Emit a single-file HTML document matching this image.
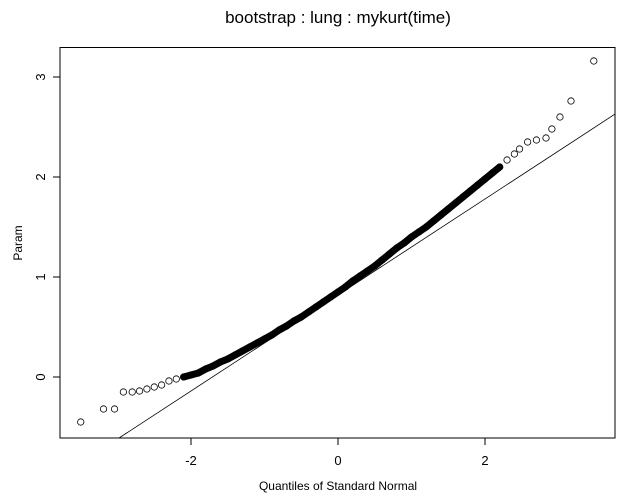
<!DOCTYPE html>
<html><head><meta charset="utf-8"><style>
body{margin:0;background:#fff;}
svg{display:block;font-family:"Liberation Sans",sans-serif;}
</style></head><body>
<svg id="chart" width="626" height="503">
<text x="338" y="23" text-anchor="middle" font-size="17">bootstrap : lung : mykurt(time)</text>
<text x="338" y="490" text-anchor="middle" font-size="12">Quantiles of Standard Normal</text>
<text transform="translate(22,243) rotate(-90)" text-anchor="middle" font-size="12">Param</text>
<rect x="60" y="47.5" width="555" height="390.5" fill="none" stroke="#000"/>
<g id="axes"></g>
<g id="marks"></g>
</svg>
<script>
const quantiles=[-3.5,-3.19,-3.04,-2.92,-2.8,-2.7,-2.6,-2.5,-2.4,-2.3,-2.2,-2.1,-2.0,-1.9,-1.8,-1.7,-1.6,-1.5,-1.4,-1.3,-1.2,-1.1,-1.0,-0.9,-0.8,-0.7,-0.6,-0.5,-0.4,-0.3,-0.2,-0.1,0,0.1,0.2,0.3,0.4,0.5,0.6,0.7,0.8,0.9,1.0,1.1,1.2,1.3,1.4,1.5,1.6,1.7,1.8,1.9,2.0,2.1,2.2,2.3,2.4,2.47,2.58,2.7,2.83,2.91,3.02,3.17,3.48];
const values=[-0.45,-0.32,-0.32,-0.15,-0.15,-0.14,-0.12,-0.1,-0.08,-0.04,-0.02,0.0,0.02,0.04,0.08,0.11,0.15,0.18,0.22,0.26,0.30,0.34,0.38,0.42,0.47,0.51,0.56,0.60,0.65,0.70,0.75,0.80,0.85,0.90,0.96,1.01,1.06,1.11,1.17,1.23,1.29,1.34,1.40,1.45,1.50,1.56,1.62,1.68,1.74,1.80,1.86,1.92,1.98,2.04,2.10,2.17,2.23,2.28,2.35,2.37,2.39,2.48,2.60,2.76,3.16];
const xTicks=[-2,0,2];
const yTicks=[0,1,2,3];
const refLine=[0.82,0.48]; // intercept, slope
const X0=60,X1=615,Y0=47.5,Y1=438;
const xs=q=>338+73.5*q;
const ys=v=>377-100*v;
const NS="http://www.w3.org/2000/svg";
const axes=document.getElementById('axes'),marks=document.getElementById('marks');
function mk(t,a,p){const e=document.createElementNS(NS,t);for(const k in a)e.setAttribute(k,a[k]);p.appendChild(e);return e;}
xTicks.forEach(t=>{
 const l=mk('line',{x1:xs(t),x2:xs(t),y1:Y1,y2:Y1+7,stroke:'#000'},axes);
 
 
 const s=mk('text',{x:xs(t),y:Y1+27,'text-anchor':'middle','font-size':'13'},axes);
 s.textContent=t;
 
 
});
yTicks.forEach(t=>{
 const l=mk('line',{x1:X0-7,x2:X0,y1:ys(t),y2:ys(t),stroke:'#000'},axes);
 
 
 const s=mk('text',{transform:`translate(${X0-15},${ys(t)}) rotate(-90)`,'text-anchor':'middle','font-size':'13'},axes);
 s.textContent=t;
 
 
});
const vBot=(377-Y1)/100;
const qStart=(vBot-refLine[0])/refLine[1];
const qEnd=(X1-338)/73.5;
const rl=mk('line',{x1:xs(qStart),y1:ys(refLine[0]+refLine[1]*qStart),x2:xs(qEnd),y2:ys(refLine[0]+refLine[1]*qEnd),stroke:'#000','stroke-width':'0.8'},marks);


const idx=quantiles.map((q,i)=>i).filter(i=>quantiles[i]>=-2.1&&quantiles[i]<=2.2);
const band=mk('polyline',{points:idx.map(i=>xs(quantiles[i])+','+ys(values[i])).join(' '),fill:'none',stroke:'#000','stroke-width':'7','stroke-linejoin':'round','stroke-linecap':'round'},marks);


quantiles.forEach((q,i)=>{
 const c=mk('circle',{cx:xs(q),cy:ys(values[i]),r:3.2,fill:'none',stroke:'#000','stroke-width':'0.8'},marks);
 
 
});
</script>
</body></html>
